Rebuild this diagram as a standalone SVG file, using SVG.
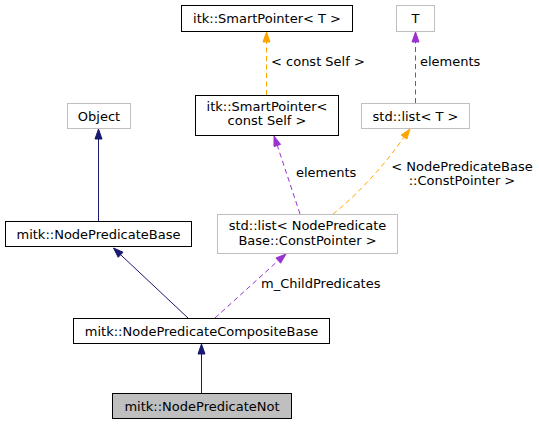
<svg xmlns="http://www.w3.org/2000/svg" width="539" height="425" viewBox="0 0 539 425">
<style>
text{font-family:"DejaVu Sans","Liberation Sans",sans-serif;font-size:13px;fill:#000}
.c{text-anchor:middle}
.doc{fill:#fff;stroke:#000;stroke-width:1}
.und{fill:#fff;stroke:#bfbfbf;stroke-width:1}
.cur{fill:#bfbfbf;stroke:#000;stroke-width:1}
.inh{stroke:#191970;fill:none;stroke-width:1}
.inhh{fill:#191970;stroke:#191970}
.use{stroke:#9a32cd;fill:none;stroke-dasharray:5,3.5}
.useh{fill:#9a32cd;stroke:#9a32cd}
.tpl{stroke:#ffa500;fill:none;stroke-dasharray:5,3.5}
.tplh{fill:#ffa500;stroke:#ffa500}
</style>
<rect width="539" height="425" fill="#fff"/>
<g id="edges">
<path class="inh" d="M98.5,221 L98.5,139"/>
<polygon class="inhh" points="95,139 98.5,129 102,139"/>
<path class="inh" d="M188,318 L120.6,254.7"/>
<polygon class="inhh" points="123,252.2 113.5,248 118.2,257.3"/>
<path class="inh" d="M201.5,393 L201.5,354"/>
<polygon class="inhh" points="198,354 201.5,344 205,354"/>
<path class="use" d="M415.5,103 L415.5,42"/>
<polygon class="useh" points="412,42 415.5,32 419,42"/>
<path class="use" d="M300,214 L277.3,145.5"/>
<polygon class="useh" points="280.6,144.4 274,136 274,146.6"/>
<path class="use" d="M215,318 L278.2,260.6"/>
<polygon class="useh" points="280.6,263.2 286,254 275.9,258"/>
<path class="tpl" d="M266.5,95 L266.5,42"/>
<polygon class="tplh" points="263,42 266.5,32 270,42"/>
<path class="tpl" d="M333,214 C355,197 385,165 404,137.1"/>
<polygon class="tplh" points="406.9,139.1 410,129 401.1,135.1"/>
<text x="271" y="66">&lt; const Self &gt;</text>
<text x="420" y="66">elements</text>
<text x="296" y="177">elements</text>
<text class="c" x="462" y="171">&lt; NodePredicateBase</text>
<text class="c" x="462" y="185">::ConstPointer &gt;</text>
<text x="261" y="288">m_ChildPredicates</text>
</g>
<g id="node_sp_T">
<rect class="doc" x="181.5" y="5.5" width="171" height="26"/>
<text class="c" x="267" y="22.5">itk::SmartPointer&lt; T &gt;</text>
</g>
<g id="node_T">
<rect class="und" x="396.5" y="5.5" width="38" height="26"/>
<text class="c" x="415.5" y="22.5">T</text>
</g>
<g id="node_sp_constself">
<rect class="doc" x="195.5" y="95.5" width="143" height="40"/>
<text class="c" x="267" y="111">itk::SmartPointer&lt;</text>
<text class="c" x="267" y="125">const Self &gt;</text>
</g>
<g id="node_list_T">
<rect class="und" x="361.5" y="103.5" width="108" height="25"/>
<text class="c" x="415.5" y="120.5">std::list&lt; T &gt;</text>
</g>
<g id="node_object">
<rect class="und" x="67.5" y="103.5" width="63" height="25"/>
<text class="c" x="99" y="120.5">Object</text>
</g>
<g id="node_npbase">
<rect class="doc" x="5.5" y="221.5" width="186" height="25"/>
<text class="c" x="98.5" y="238.5">mitk::NodePredicateBase</text>
</g>
<g id="node_list_np">
<rect class="und" x="217.5" y="214.5" width="180" height="39"/>
<text class="c" x="307.5" y="230">std::list&lt; NodePredicate</text>
<text class="c" x="307.5" y="244.5">Base::ConstPointer &gt;</text>
</g>
<g id="node_composite">
<rect class="doc" x="73.5" y="318.5" width="256" height="25"/>
<text class="c" x="201.5" y="335.5">mitk::NodePredicateCompositeBase</text>
</g>
<g id="node_not">
<rect class="cur" x="112.5" y="393.5" width="179" height="25"/>
<text class="c" x="202" y="410.5">mitk::NodePredicateNot</text>
</g>
</svg>
